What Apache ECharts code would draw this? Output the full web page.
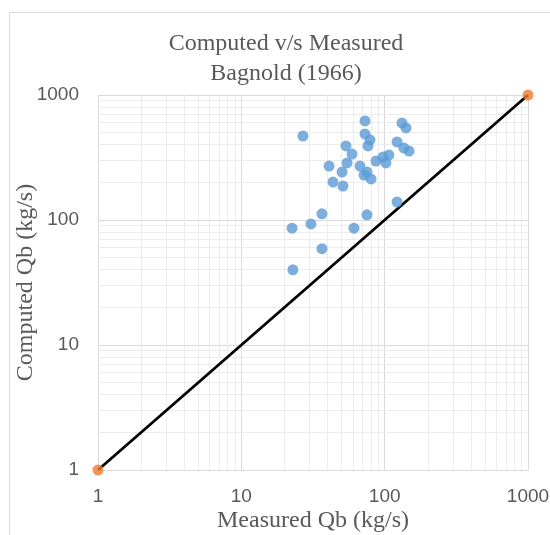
<!DOCTYPE html>
<html>
<head>
<meta charset="utf-8">
<script src="https://cdn.jsdelivr.net/npm/echarts@6/dist/echarts.min.js"></script>
<style>
  body { margin: 0; background: #fff; }
  #main { width: 550px; height: 535px; }
</style>
</head>
<body>
<div id="main"></div>
<script>
// measured (x) vs computed (y), kg/s
var measured = [72.9, 26.9, 132, 141, 72.9, 79, 76.5, 53.7, 59.2, 122, 136, 148,
  40.9, 50.4, 54.6, 67.3, 87, 97.3, 107, 102, 71.8, 80.3, 75.3, 43.6, 51.2,
  122, 36.5, 75.3, 22.6, 30.6, 61.1, 36.5, 22.9];
var computed = [620, 470, 597, 545, 488, 437, 391, 391, 337, 421, 377, 356,
  270, 242, 286, 270, 296, 319, 331, 286, 229, 213, 242, 201, 187,
  139, 112, 110, 86, 93, 86, 59, 40];
// 1:1 line ends
var lineX = [1, 1000];
var lineY = [1, 1000];
var tickLabels = ['1', '10', '100', '1000'];
var minorVals = [2, 3, 4, 5, 6, 7, 8, 9, 20, 30, 40, 50, 60, 70, 80, 90, 200, 300, 400, 500, 600, 700, 800, 900];

var pts = measured.map(function (m, i) { return [m, computed[i]]; });
var linePts = lineX.map(function (x, i) { return [x, lineY[i]]; });

var grey = '#595959';
var serif = '"Liberation Serif", "DejaVu Serif", serif';
var sans = '"Liberation Sans", Arial, sans-serif';

var myChart = echarts.init(document.getElementById('main'));

// minor grid lines at 2..9 of each decade
var minorLines = [];
minorVals.forEach(function (v) { minorLines.push({ xAxis: v }); minorLines.push({ yAxis: v }); });

function lbl(v) { return tickLabels.indexOf(String(v)) >= 0 ? String(v) : ''; }

myChart.setOption({
  animation: false,
  graphic: [{
    type: 'rect', left: 7, top: 10, silent: true,
    shape: { width: 600, height: 600 },
    style: { fill: 'none', stroke: '#d9d9d9', lineWidth: 1 }
  }],
  title: {
    text: 'Computed v/s Measured\nBagnold (1966)',
    left: 281, top: 24, textAlign: 'center',
    textStyle: { fontFamily: serif, fontSize: 24, fontWeight: 'normal', color: grey, lineHeight: 30 }
  },
  grid: { left: 98, top: 95, right: 22, bottom: 65, containLabel: false, outerBoundsMode: 'none' },
  xAxis: {
    type: 'log', logBase: 10, min: 1, max: 1000,
    name: 'Measured Qb (kg/s)', nameLocation: 'middle', nameGap: 39, nameMoveOverlap: false,
    nameTextStyle: { fontFamily: serif, fontSize: 24, color: grey },
    axisLine: { lineStyle: { color: '#d9d9d9' } },
    axisTick: { show: false },
    axisLabel: { margin: 17, fontFamily: sans, fontSize: 19, color: grey, formatter: lbl },
    splitLine: { show: true, lineStyle: { color: '#d9d9d9' } }
  },
  yAxis: {
    type: 'log', logBase: 10, min: 1, max: 1000,
    name: 'Computed Qb (kg/s)', nameLocation: 'middle', nameGap: 60, nameMoveOverlap: false,
    nameTextStyle: { fontFamily: serif, fontSize: 24, color: grey },
    axisLine: { show: true, lineStyle: { color: '#d9d9d9' } },
    axisTick: { show: false },
    axisLabel: { margin: 19, fontFamily: sans, fontSize: 19, color: grey, formatter: lbl },
    splitLine: { show: true, lineStyle: { color: '#d9d9d9' } }
  },
  series: [
    {
      type: 'scatter', data: [], silent: true, z: 1,
      markLine: {
        silent: true, symbol: 'none', label: { show: false }, z: 1,
        lineStyle: { color: '#ececec', width: 1, type: 'solid' },
        data: minorLines
      }
    },
    {
      type: 'line', data: linePts, showSymbol: false, silent: true,
      lineStyle: { color: '#000', width: 2.8 }, z: 3
    },
    {
      type: 'scatter', data: pts, symbolSize: 11,
      itemStyle: { color: '#5b9bd5' }, z: 4
    },
    {
      type: 'scatter', data: linePts, symbolSize: 11,
      itemStyle: { color: '#ed7d31' }, z: 5
    }
  ]
});
</script>
</body>
</html>
